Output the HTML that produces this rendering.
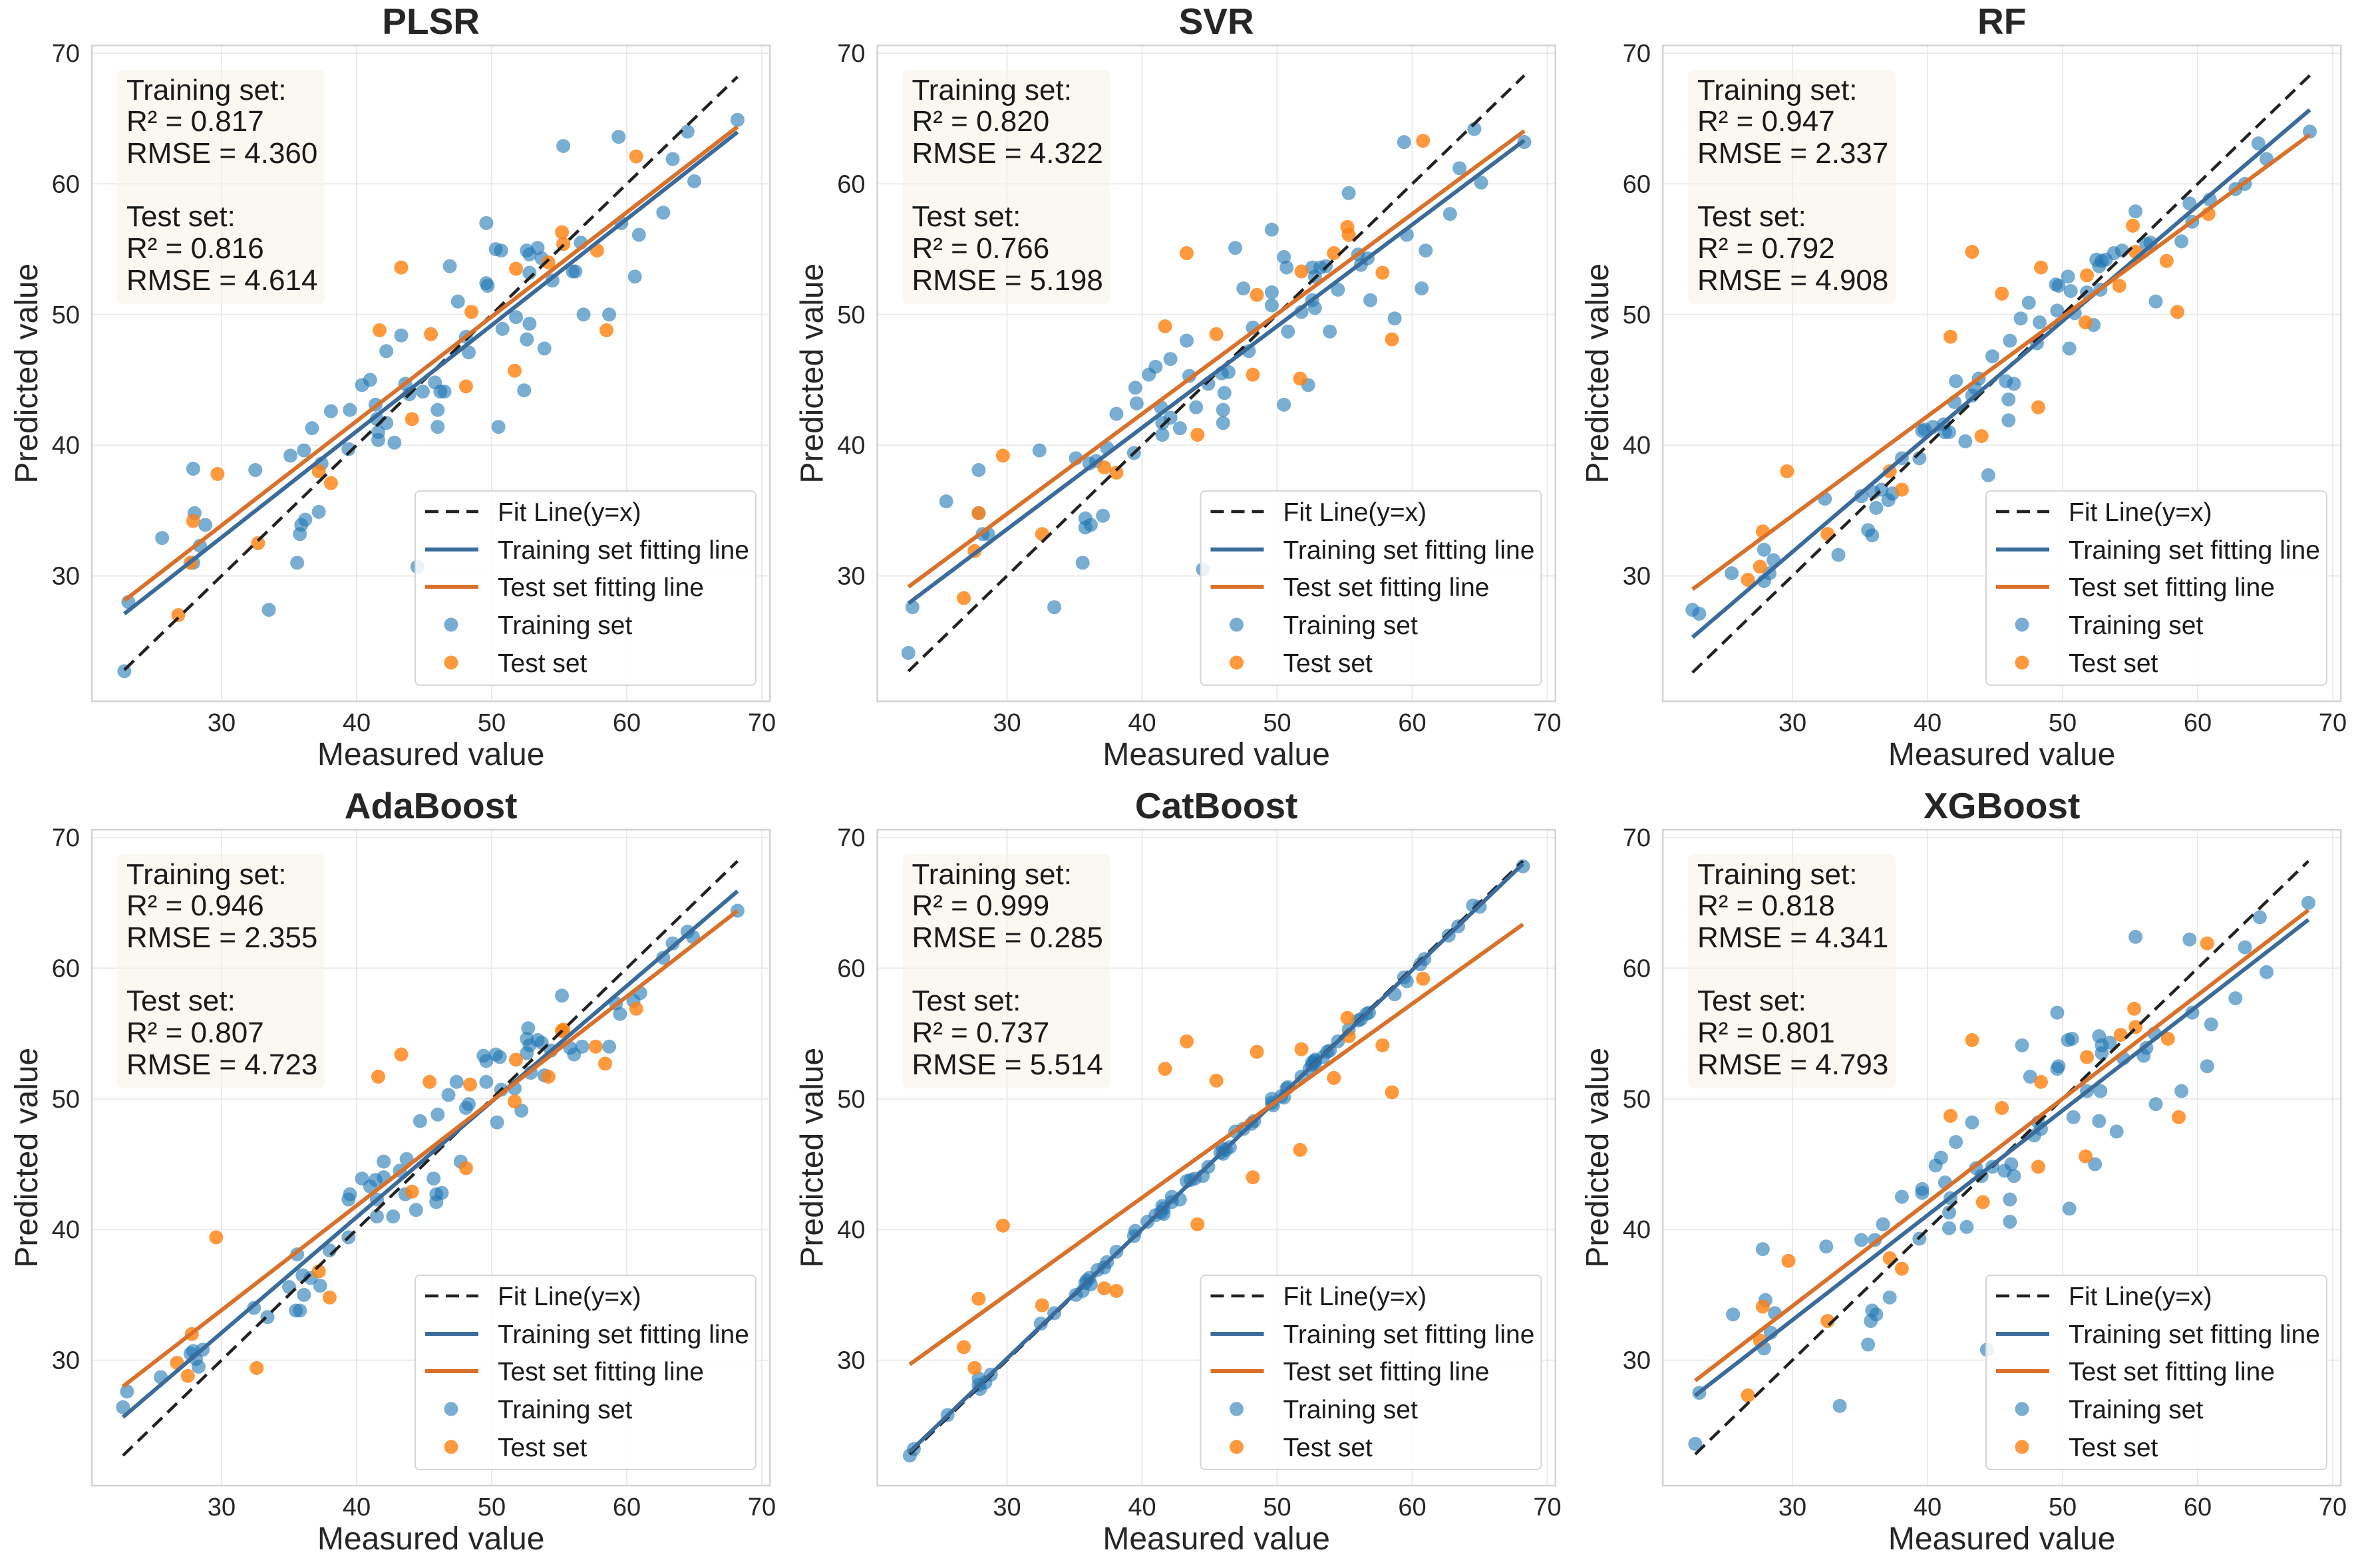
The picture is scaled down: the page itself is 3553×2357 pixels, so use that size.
<!DOCTYPE html>
<html><head><meta charset="utf-8">
<style>
html,body{margin:0;padding:0;background:#fff;}
svg{display:block;font-family:"Liberation Sans",Arial,sans-serif;}
</style></head>
<body>
<svg id="chart" xmlns="http://www.w3.org/2000/svg" width="3553" height="2357" viewBox="0 0 3553 2357">
<rect x="0" y="0" width="3553" height="2357" fill="#ffffff"/>
</svg>
<script>
// ---------- data ----------
const modelNames = ["PLSR","SVR","RF","AdaBoost","CatBoost","XGBoost"];
const trainR2 = ["0.817","0.820","0.947","0.946","0.999","0.818"];
const trainRMSE = ["4.360","4.322","2.337","2.355","0.285","4.341"];
const testR2 = ["0.816","0.766","0.792","0.807","0.737","0.801"];
const testRMSE = ["4.614","5.198","4.908","4.723","5.514","4.793"];
const tickValues = [30,40,50,60,70];
const tickLabels = ["30","40","50","60","70"];

const plsrTrain = [[22.8,22.7],[23.1,28.0],[25.6,32.9],[27.9,38.2],[28.0,34.8],[27.9,31.0],[28.4,32.3],[28.8,33.9],[32.5,38.1],[33.5,27.4],[35.1,39.2],[35.6,31.0],[35.8,33.2],[35.9,33.9],[36.2,34.3],[36.1,39.6],[36.7,41.3],[37.2,34.9],[37.4,38.6],[38.1,42.6],[39.4,39.7],[39.5,42.7],[40.4,44.6],[41.0,45.0],[41.4,43.1],[41.5,42.0],[41.6,41.0],[41.6,40.4],[42.2,41.7],[42.2,47.2],[42.8,40.2],[43.3,48.4],[43.6,44.7],[43.9,43.9],[44.9,44.1],[44.5,30.7],[45.8,44.8],[46.0,42.7],[46.0,41.4],[46.2,44.1],[46.5,44.1],[46.9,53.7],[47.5,51.0],[48.1,48.3],[48.3,47.1],[49.6,57.0],[49.6,52.4],[49.7,52.2],[50.3,55.0],[50.7,54.9],[50.5,41.4],[50.8,48.9],[51.8,49.8],[52.4,44.2],[52.6,48.1],[52.6,54.9],[52.8,49.3],[52.8,54.6],[53.4,55.1],[52.8,53.2],[53.7,54.3],[53.9,47.4],[54.5,52.6],[55.3,62.9],[56.0,53.3],[56.2,53.3],[56.6,55.5],[56.8,50.0],[58.7,50.0],[59.4,63.6],[59.6,57.0],[60.6,52.9],[60.9,56.1],[62.7,57.8],[63.4,61.9],[64.5,64.0],[65.0,60.2],[68.2,64.9]];
const plsrTest = [[26.8,27.0],[27.7,31.0],[27.9,34.2],[29.7,37.8],[32.7,32.5],[37.2,38.0],[38.1,37.1],[41.7,48.8],[43.3,53.6],[44.1,42.0],[45.5,48.5],[48.1,44.5],[48.5,50.2],[51.7,45.7],[51.8,53.5],[54.2,54.0],[55.2,56.3],[55.3,55.4],[57.8,54.9],[58.5,48.8],[60.7,62.1]];

const svrTrain = [[22.7,24.1],[23.0,27.6],[25.5,35.7],[27.9,38.1],[27.9,34.8],[28.2,33.2],[28.6,33.2],[32.4,39.6],[33.5,27.6],[35.1,39.0],[35.6,31.0],[35.8,34.4],[35.8,33.7],[36.2,33.9],[36.1,38.6],[36.6,38.8],[37.1,34.6],[37.4,39.8],[38.1,42.4],[39.4,39.4],[39.5,44.4],[39.6,43.2],[40.5,45.4],[41.0,46.0],[41.4,42.9],[41.5,41.7],[41.5,40.8],[42.1,46.6],[42.1,42.1],[42.8,41.3],[43.3,48.0],[43.5,45.3],[44.0,42.9],[44.5,30.5],[44.9,44.7],[45.9,45.5],[46.0,42.7],[46.0,41.7],[46.1,44.0],[46.4,45.6],[46.9,55.1],[47.5,52.0],[47.9,47.2],[48.2,49.0],[49.6,56.5],[49.6,51.7],[49.6,50.7],[50.5,54.4],[50.7,53.6],[50.5,43.1],[50.8,48.7],[51.8,50.2],[52.3,44.6],[52.6,51.1],[52.6,53.6],[52.8,50.5],[52.8,52.9],[53.2,53.6],[53.6,53.7],[53.9,48.7],[54.5,51.9],[55.3,59.3],[56.0,54.6],[56.2,53.8],[56.7,54.3],[56.9,51.1],[58.7,49.7],[59.4,63.2],[59.6,56.1],[60.7,52.0],[61.0,54.9],[62.8,57.7],[63.5,61.2],[64.6,64.2],[65.1,60.1],[68.3,63.2]];
const svrTest = [[26.8,28.3],[27.6,31.9],[27.9,34.8],[29.7,39.2],[32.6,33.2],[37.2,38.3],[38.1,37.9],[41.7,49.1],[43.3,54.7],[44.1,40.8],[45.5,48.5],[48.2,45.4],[48.5,51.5],[51.7,45.1],[51.8,53.3],[54.2,54.7],[55.2,56.7],[55.3,56.1],[57.8,53.2],[58.5,48.1],[60.8,63.3]];

const rfTrain = [[22.6,27.4],[23.1,27.1],[25.5,30.2],[27.9,32.0],[27.9,29.6],[28.3,30.2],[28.6,31.2],[32.4,35.9],[33.4,31.6],[35.1,36.1],[35.6,33.5],[35.9,33.1],[36.0,36.4],[36.2,35.2],[36.6,36.6],[37.1,35.8],[37.4,36.3],[38.1,39.0],[39.4,39.0],[39.6,41.1],[39.8,41.2],[40.4,41.4],[41.2,41.6],[41.3,41.0],[41.6,41.0],[42.0,43.3],[42.1,44.9],[42.8,40.3],[43.3,43.8],[43.8,45.1],[43.5,44.4],[44.5,37.7],[44.8,46.8],[45.8,44.9],[46.0,43.5],[46.0,41.9],[46.1,48.0],[46.4,44.7],[46.9,49.7],[47.5,50.9],[48.1,47.8],[48.3,49.4],[49.5,52.3],[49.6,50.3],[49.7,52.2],[50.4,52.9],[50.6,51.8],[50.5,47.4],[50.9,50.1],[51.8,51.7],[52.3,49.2],[52.5,54.2],[52.7,53.7],[52.8,51.9],[52.9,54.1],[53.2,54.2],[53.8,54.7],[54.4,54.9],[55.4,57.9],[56.2,55.4],[56.5,55.5],[56.9,51.0],[58.8,55.6],[59.4,58.5],[59.6,57.1],[60.9,58.8],[62.8,59.6],[63.5,60.0],[64.5,63.1],[65.1,61.9],[68.3,64.0]];
const rfTest = [[26.7,29.7],[27.6,30.7],[27.8,33.4],[29.6,38.0],[32.6,33.2],[37.2,38.0],[38.1,36.6],[41.7,48.3],[43.3,54.8],[44.0,40.7],[45.5,51.6],[48.2,42.9],[48.4,53.6],[51.7,49.4],[51.8,53.0],[54.2,52.2],[55.2,56.8],[55.4,54.8],[57.7,54.1],[58.5,50.2],[60.8,57.7]];

const adaTrain = [[22.7,26.4],[23.0,27.6],[25.5,28.7],[27.7,30.5],[27.9,30.7],[28.1,30.1],[28.3,29.5],[28.6,30.8],[32.4,34.0],[33.4,33.3],[35.0,35.6],[35.6,38.1],[35.5,33.8],[35.8,33.8],[36.1,35.0],[36.0,36.5],[36.6,36.3],[37.3,35.7],[38.0,38.4],[39.4,39.4],[39.5,42.7],[39.4,42.3],[40.4,43.9],[41.0,43.3],[41.4,43.8],[41.5,42.3],[41.5,41.0],[42.0,45.2],[42.0,44.0],[42.7,41.0],[43.2,44.5],[43.7,45.4],[43.6,42.7],[44.4,41.5],[44.7,48.3],[45.7,43.9],[46.0,48.8],[45.9,42.7],[45.9,42.1],[46.3,42.8],[46.8,50.3],[47.4,51.3],[47.7,45.2],[48.1,49.3],[48.3,49.6],[49.4,53.3],[49.6,52.9],[49.6,51.3],[50.3,53.4],[50.6,53.2],[50.4,48.2],[50.7,50.7],[51.7,50.8],[52.2,49.1],[52.6,53.5],[52.7,55.4],[52.6,54.6],[52.8,54.1],[52.9,52.0],[53.4,54.5],[53.7,54.3],[53.9,51.8],[54.4,53.7],[55.2,57.9],[55.8,53.9],[56.1,53.4],[56.7,54.0],[58.7,54.0],[59.2,57.3],[59.5,56.5],[60.5,57.5],[61.0,58.1],[62.7,60.8],[63.4,61.9],[64.5,62.8],[64.9,62.4],[68.2,64.4]];
const adaTest = [[26.7,29.8],[27.5,28.8],[27.8,32.0],[29.6,39.4],[32.6,29.4],[37.2,36.8],[38.0,34.8],[41.6,51.7],[43.3,53.4],[44.1,42.9],[45.4,51.3],[48.1,44.7],[48.4,51.1],[51.7,49.8],[51.8,53.0],[54.2,51.7],[55.2,55.2],[55.3,55.3],[57.7,54.0],[58.4,52.7],[60.7,56.9]];

const catTrain = [[22.8,22.7],[23.1,23.2],[25.6,25.8],[27.9,28.1],[28.0,27.8],[27.9,28.6],[28.4,28.3],[28.8,28.9],[32.5,32.8],[33.5,33.6],[35.1,35.0],[35.6,35.3],[35.8,35.9],[35.9,36.1],[36.2,35.8],[36.1,36.3],[36.7,36.9],[37.2,37.1],[37.4,37.5],[38.1,38.3],[39.4,39.5],[39.5,39.9],[40.4,40.6],[41.0,41.1],[41.4,41.3],[41.5,41.8],[41.6,41.2],[41.6,41.6],[42.2,42.5],[42.2,42.1],[42.8,42.3],[43.3,43.7],[43.6,43.8],[43.9,43.9],[44.9,44.8],[44.5,44.1],[45.8,45.9],[46.0,46.2],[46.0,45.8],[46.2,46.1],[46.5,46.3],[46.9,47.5],[47.5,47.7],[48.1,48.1],[48.3,48.3],[49.6,50.0],[49.6,49.7],[49.7,49.5],[50.3,50.2],[50.7,50.8],[50.5,50.1],[50.8,50.9],[51.8,51.7],[52.4,52.3],[52.6,52.8],[52.6,52.6],[52.8,53.0],[52.8,52.7],[53.4,53.2],[52.8,52.9],[53.7,53.6],[53.9,53.7],[54.5,54.4],[55.3,55.3],[56.0,56.0],[56.2,56.1],[56.6,56.5],[56.8,56.6],[58.7,58.0],[59.4,59.3],[59.6,59.0],[60.6,60.3],[60.9,60.7],[62.7,62.5],[63.4,63.2],[64.5,64.8],[65.0,64.7],[68.2,67.8]];
const catTest = [[26.8,31.0],[27.6,29.4],[27.9,34.7],[29.7,40.3],[32.6,34.2],[37.2,35.5],[38.1,35.3],[41.7,52.3],[43.3,54.4],[44.1,40.4],[45.5,51.4],[48.2,44.0],[48.5,53.6],[51.7,46.1],[51.8,53.8],[54.2,51.6],[55.2,56.2],[55.3,54.8],[57.8,54.1],[58.5,50.5],[60.8,59.2]];

const xgbTrain = [[22.8,23.6],[23.1,27.5],[25.6,33.5],[27.8,38.5],[28.0,34.6],[27.9,30.9],[28.4,32.1],[28.7,33.6],[32.5,38.7],[33.5,26.5],[35.1,39.2],[35.6,31.2],[35.8,33.0],[35.9,33.8],[36.2,33.5],[36.1,39.2],[36.7,40.4],[37.2,34.8],[38.1,42.5],[39.4,39.3],[39.6,42.8],[39.6,43.1],[40.6,44.9],[41.0,45.5],[41.3,43.6],[41.6,41.3],[41.6,40.1],[42.1,46.7],[41.7,42.4],[42.9,40.2],[43.3,48.2],[43.6,44.7],[44.0,44.1],[44.4,30.8],[44.8,44.8],[45.7,44.5],[46.1,42.3],[46.1,40.6],[46.2,45.0],[46.4,44.1],[47.0,54.1],[47.6,51.7],[47.9,47.2],[48.2,48.2],[48.4,47.7],[49.6,56.6],[49.6,52.3],[49.7,52.5],[50.4,54.5],[50.7,54.6],[50.5,41.6],[50.8,48.6],[51.8,50.6],[52.4,45.0],[52.7,48.3],[52.7,54.8],[52.8,50.6],[52.9,54.1],[52.9,53.5],[53.5,54.3],[54.0,47.5],[54.5,53.1],[55.4,62.4],[56.0,53.3],[56.2,53.9],[56.8,55.0],[56.9,49.6],[58.8,50.6],[59.4,62.2],[59.6,56.6],[60.7,52.5],[61.0,55.7],[62.8,57.7],[63.5,61.6],[64.6,63.9],[65.1,59.7],[68.2,65.0]];
const xgbTest = [[26.7,27.3],[27.6,31.5],[27.8,34.1],[29.7,37.6],[32.6,33.0],[37.2,37.8],[38.1,37.0],[41.7,48.7],[43.3,54.5],[44.1,42.1],[45.5,49.3],[48.2,44.8],[48.4,51.3],[51.7,45.6],[51.8,53.2],[54.3,54.9],[55.3,56.9],[55.4,55.5],[57.8,54.6],[58.6,48.6],[60.7,61.9]];

const trainSets = [plsrTrain, svrTrain, rfTrain, adaTrain, catTrain, xgbTrain];
const testSets = [plsrTest, svrTest, rfTest, adaTest, catTest, xgbTest];

// ---------- drawing ----------
const NS = "http://www.w3.org/2000/svg";
const svg = document.getElementById("chart");
const AX_MIN = 20.4, AX_MAX = 70.6;
function mk(tag, attrs, parent){
  const e = document.createElementNS(NS, tag);
  for (const k in attrs) e.setAttribute(k, attrs[k]);
  parent.appendChild(e);
  return e;
}
function fit(pts){
  let n=pts.length, sx=0, sy=0, sxx=0, sxy=0;
  pts.forEach(p=>{sx+=p[0]; sy+=p[1]; sxx+=p[0]*p[0]; sxy+=p[0]*p[1];});
  const b=(n*sxy-sx*sy)/(n*sxx-sx*sx);
  return [b,(sy-b*sx)/n];
}
const slug = s => s.toLowerCase();

modelNames.forEach((name, i) => {
  const col = i % 3, row = Math.floor(i / 3);
  const ox = col * 1180.5, oy = row * 1179;
  const X = v => ox + 333 + (v - 30) * 20.3;
  const Y = v => oy + 80 + (70 - v) * 19.64;
  const g = mk("g", {}, svg);
  
  

  const fx0 = X(AX_MIN), fx1 = X(AX_MAX), fy0 = Y(AX_MAX), fy1 = Y(AX_MIN);
  tickValues.forEach((t, k) => {
    const gv = mk("line", {x1:X(t), x2:X(t), y1:fy0, y2:fy1, stroke:"#ebebeb", "stroke-width":2}, g);
    
    
    const gh = mk("line", {x1:fx0, x2:fx1, y1:Y(t), y2:Y(t), stroke:"#ebebeb", "stroke-width":2}, g);
    
    
    const xt = mk("text", {x:X(t), y:oy+1099, "font-size":38, fill:"#262626", "text-anchor":"middle"}, g);
    xt.textContent = tickLabels[k];
    
    
    const yt = mk("text", {x:ox+120, y:Y(t)+13, "font-size":38, fill:"#262626", "text-anchor":"end"}, g);
    yt.textContent = tickLabels[k];
    
    
  });
  const frame = mk("rect", {x:fx0, y:fy0, width:fx1-fx0, height:fy1-fy0, fill:"none", stroke:"#d3d3d3", "stroke-width":2.5}, g);
  
  

  const cx = (fx0 + fx1) / 2;
  const title = mk("text", {x:cx, y:oy+51, "font-size":55, "font-weight":"bold", fill:"#262626", "text-anchor":"middle"}, g);
  title.textContent = name;
  
  
  const xl = mk("text", {x:cx, y:oy+1150, "font-size":48, fill:"#262626", "text-anchor":"middle"}, g);
  xl.textContent = "Measured value";
  
  
  const ycy = (fy0 + fy1) / 2;
  const yl = mk("text", {x:ox+56, y:ycy, "font-size":48, fill:"#262626", "text-anchor":"middle", transform:`rotate(-90 ${ox+56} ${ycy})`}, g);
  yl.textContent = "Predicted value";
  
  

  const tr = trainSets[i], te = testSets[i];
  const allX = tr.map(p => p[0]);
  const lo = Math.min(...allX), hi = Math.max(...allX);
  tr.forEach(p => {
    const c = mk("circle", {cx:X(p[0]), cy:Y(p[1]), r:10.5, fill:"#1f77b4", "fill-opacity":0.6}, g);
    
    
  });
  te.forEach(p => {
    const c = mk("circle", {cx:X(p[0]), cy:Y(p[1]), r:10.5, fill:"#ff7f0e", "fill-opacity":0.8}, g);
    
    
  });
  const id = mk("line", {x1:X(lo), y1:Y(lo), x2:X(hi), y2:Y(hi), stroke:"#222", "stroke-width":4.5, "stroke-dasharray":"20 11"}, g);
  
  
  const ft = fit(tr), fe = fit(te);
  const l1 = mk("line", {x1:X(lo), y1:Y(ft[0]*lo+ft[1]), x2:X(hi), y2:Y(ft[0]*hi+ft[1]), stroke:"#3a6b9b", "stroke-width":6}, g);
  
  
  const l2 = mk("line", {x1:X(lo), y1:Y(fe[0]*lo+fe[1]), x2:X(hi), y2:Y(fe[0]*hi+fe[1]), stroke:"#d9712a", "stroke-width":6}, g);
  
  

  const ab = mk("rect", {x:ox+176, y:oy+105, width:312, height:352, rx:8, fill:"#f7f3e8", "fill-opacity":0.55}, g);
  
  
  const lines = ["Training set:", "R\u00b2 = " + trainR2[i], "RMSE = " + trainRMSE[i], "Test set:", "R\u00b2 = " + testR2[i], "RMSE = " + testRMSE[i]];
  const bases = [150, 197, 245, 340, 388, 436];
  lines.forEach((s, k) => {
    const t = mk("text", {x:ox+190, y:oy+bases[k], "font-size":44, fill:"#1a1a1a"}, g);
    t.textContent = s;
    
    
  });

  const lg = mk("g", {}, g);
  
  
  mk("rect", {x:ox+624, y:oy+738, width:512, height:292, rx:7, fill:"#ffffff", "fill-opacity":0.85, stroke:"#d6d6d6", "stroke-width":2}, lg);
  const labels = ["Fit Line(y=x)", "Training set fitting line", "Test set fitting line", "Training set", "Test set"];
  const rows = [769, 826, 882, 939, 996];
  labels.forEach((s, k) => {
    const yy = oy + rows[k];
    let h;
    if (k === 0) h = mk("line", {x1:ox+639, x2:ox+719, y1:yy, y2:yy, stroke:"#222", "stroke-width":4.5, "stroke-dasharray":"20 11"}, lg);
    else if (k === 1) h = mk("line", {x1:ox+639, x2:ox+719, y1:yy, y2:yy, stroke:"#3a6b9b", "stroke-width":6}, lg);
    else if (k === 2) h = mk("line", {x1:ox+639, x2:ox+719, y1:yy, y2:yy, stroke:"#d9712a", "stroke-width":6}, lg);
    else h = mk("circle", {cx:ox+678, cy:yy, r:10.5, fill:k===3?"#1f77b4":"#ff7f0e", "fill-opacity":k===3?0.6:0.8}, lg);
    
    
    const t = mk("text", {x:ox+748, y:yy+14, "font-size":39, fill:"#1a1a1a"}, lg);
    t.textContent = s;
    
    
  });
});
</script>
</body></html>
